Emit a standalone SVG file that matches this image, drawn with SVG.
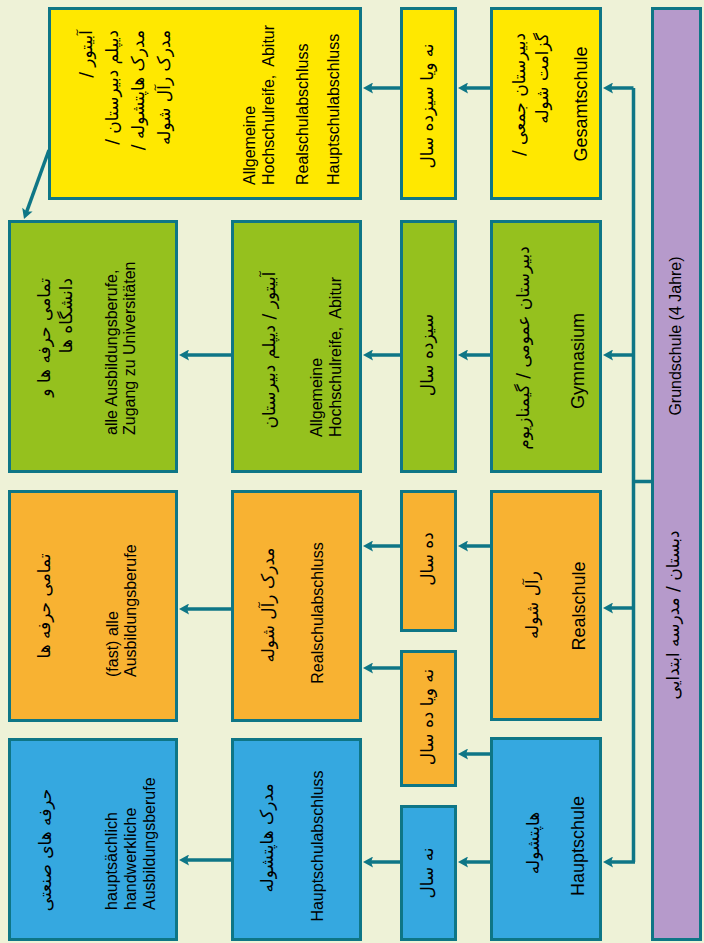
<svg xmlns="http://www.w3.org/2000/svg" width="704" height="943" viewBox="0 0 704 943">
<defs>
<style>
.bg{fill:#EEF2D7}
rect.b{stroke:#0E7686;stroke-width:3}
.y{fill:#FFE800}.g{fill:#95C11E}.o{fill:#F8B232}.bl{fill:#35A8E0}.p{fill:#B69ACB}
.c line,.c path{stroke:#0E7686;stroke-width:3.5;fill:none}
text{fill:#000}
.de{font-family:"Liberation Sans",Arial,sans-serif;font-size:16px}
.sn{font-family:"Liberation Sans",Arial,sans-serif;font-size:18px}
.fa{font-family:"DejaVu Sans",sans-serif;font-size:17px}
.m{text-anchor:middle}.s{text-anchor:start}.e{text-anchor:end}
</style>
<marker id="ah" markerUnits="userSpaceOnUse" markerWidth="11" markerHeight="11" viewBox="0 0 10 11" refX="5" refY="5.5" orient="auto">
<path d="M0,0 L10,5.5 L0,11 L2,5.5 z" fill="#0E7686"/>
</marker>
</defs>
<rect class="bg" x="0" y="0" width="704" height="943"/>

<g id="grundschule">
<rect class="b p" x="652.5" y="8.5" width="48" height="931"/>
<text class="de m" transform="translate(681,336) rotate(-90)">Grundschule (4 Jahre)</text>
<text class="fa m" transform="translate(679,615) rotate(-90)">دبستان / مدرسه ابتدایی</text>
</g>

<g id="gesamtschule">
<rect class="b y" x="491.5" y="8.5" width="109" height="190"/>
<text class="fa e" transform="translate(525,33) rotate(-90)">دبیرستان جمعی /&#x200F;</text>
<text class="fa e" transform="translate(548,33) rotate(-90)">گزامت شوله</text>
<text class="sn m" transform="translate(587,104) rotate(-90)">Gesamtschule</text>
</g>

<g id="gesamt-jahre">
<rect class="b y" x="401.5" y="8.5" width="54" height="190"/>
<text class="fa m" transform="translate(433,106) rotate(-90)">نه ویا سیزده سال</text>
</g>

<g id="gesamt-abschluss">
<rect class="b y" x="49.5" y="8.5" width="311" height="190"/>
<text class="fa e" transform="translate(92,30) rotate(-90)">آبیتور /&#x200F;</text>
<text class="fa e" transform="translate(118,30) rotate(-90)">دیپلم دبیرستان /&#x200F;</text>
<text class="fa e" transform="translate(144,30) rotate(-90)">مدرک هاپتشوله /&#x200F;</text>
<text class="fa e" transform="translate(170,30) rotate(-90)">مدرک رآل شوله</text>
<text class="de s" transform="translate(255,185) rotate(-90)">Allgemeine</text>
<text class="de s" transform="translate(274,185) rotate(-90)">Hochschulreife,&#160; Abitur</text>
<text class="de s" transform="translate(308,185) rotate(-90)">Realschulabschluss</text>
<text class="de s" transform="translate(339,185) rotate(-90)">Hauptschulabschluss</text>
</g>

<g id="gymnasium">
<rect class="b g" x="491.5" y="221.5" width="109" height="250"/>
<text class="fa m" transform="translate(529,348) rotate(-90)">دبیرستان عمومی / گیمنازیوم</text>
<text class="sn m" transform="translate(584,361) rotate(-90)">Gymnasium</text>
</g>

<g id="gym-jahre">
<rect class="b g" x="401.5" y="221.5" width="54" height="250"/>
<text class="fa m" transform="translate(433,355) rotate(-90)">سیزده سال</text>
</g>

<g id="gym-abschluss">
<rect class="b g" x="232.5" y="221.5" width="128" height="250"/>
<text class="fa m" transform="translate(275,350) rotate(-90)">آبیتور / دیپلم دبیرستان</text>
<text class="de s" transform="translate(322,437) rotate(-90)">Allgemeine</text>
<text class="de s" transform="translate(341,437) rotate(-90)">Hochschulreife,&#160; Abitur</text>
</g>

<g id="gym-beruf">
<rect class="b g" x="9.5" y="221.5" width="167" height="250"/>
<text class="fa e" transform="translate(50,278) rotate(-90)">تمامی حرفه ها و</text>
<text class="fa e" transform="translate(72,278) rotate(-90)">دانشگاه ها</text>
<text class="de s" transform="translate(117,435) rotate(-90)">alle Ausbildungsberufe,</text>
<text class="de s" transform="translate(135,435) rotate(-90)">Zugang zu Universitäten</text>
</g>

<g id="realschule">
<rect class="b o" x="491.5" y="491.5" width="109" height="228"/>
<text class="fa m" transform="translate(538,605) rotate(-90)">رآل شوله</text>
<text class="sn m" transform="translate(585,606) rotate(-90)">Realschule</text>
</g>

<g id="real-jahre">
<rect class="b o" x="401.5" y="491.5" width="54" height="139"/>
<text class="fa m" transform="translate(433,559) rotate(-90)">ده سال</text>
</g>

<g id="haupt-real-jahre">
<rect class="b o" x="401.5" y="651.5" width="54" height="134"/>
<text class="fa m" transform="translate(433,717) rotate(-90)">نه ویا ده سال</text>
</g>

<g id="real-abschluss">
<rect class="b o" x="232.5" y="491.5" width="128" height="229"/>
<text class="fa m" transform="translate(274,605) rotate(-90)">مدرک رآل شوله</text>
<text class="de m" transform="translate(323,613) rotate(-90)">Realschulabschluss</text>
</g>

<g id="real-beruf">
<rect class="b o" x="9.5" y="491.5" width="167" height="229"/>
<text class="fa m" transform="translate(50,606) rotate(-90)">تمامی حرفه ها</text>
<text class="de s" transform="translate(118,677) rotate(-90)">(fast) alle</text>
<text class="de s" transform="translate(136,677) rotate(-90)">Ausbildungsberufe</text>
</g>

<g id="hauptschule">
<rect class="b bl" x="491.5" y="738.5" width="109" height="201"/>
<text class="fa m" transform="translate(539,843) rotate(-90)">هاپتشوله</text>
<text class="sn m" transform="translate(584,846) rotate(-90)">Hauptschule</text>
</g>

<g id="haupt-jahre">
<rect class="b bl" x="401.5" y="806.5" width="54" height="133"/>
<text class="fa m" transform="translate(433,873) rotate(-90)">نه سال</text>
</g>

<g id="haupt-abschluss">
<rect class="b bl" x="232.5" y="739.5" width="128" height="200"/>
<text class="fa m" transform="translate(273,838) rotate(-90)">مدرک هاپتشوله</text>
<text class="de m" transform="translate(323,846) rotate(-90)">Hauptschulabschluss</text>
</g>

<g id="haupt-beruf">
<rect class="b bl" x="9.5" y="739.5" width="167" height="200"/>
<text class="fa m" transform="translate(51,850) rotate(-90)">حرفه های صنعتی</text>
<text class="de s" transform="translate(117,910) rotate(-90)">hauptsächlich</text>
<text class="de s" transform="translate(136,910) rotate(-90)">handwerkliche</text>
<text class="de s" transform="translate(155,910) rotate(-90)">Ausbildungsberufe</text>
</g>

<g id="connectors" class="c">
<path d="M633.5,88 V862 M633.5,481.5 H652"/>
<line x1="633.5" y1="88" x2="608" y2="88" marker-end="url(#ah)"/>
<line x1="633.5" y1="355" x2="608" y2="355" marker-end="url(#ah)"/>
<line x1="633.5" y1="608" x2="608" y2="608" marker-end="url(#ah)"/>
<line x1="635" y1="862" x2="608" y2="862" marker-end="url(#ah)"/>
<line x1="490" y1="88" x2="463" y2="88" marker-end="url(#ah)"/>
<line x1="400" y1="88" x2="368" y2="88" marker-end="url(#ah)"/>
<line x1="490" y1="355" x2="463" y2="355" marker-end="url(#ah)"/>
<line x1="400" y1="355" x2="368" y2="355" marker-end="url(#ah)"/>
<line x1="231" y1="355" x2="184" y2="355" marker-end="url(#ah)"/>
<line x1="490" y1="546" x2="463" y2="546" marker-end="url(#ah)"/>
<line x1="400" y1="546" x2="368" y2="546" marker-end="url(#ah)"/>
<line x1="400" y1="668" x2="368" y2="668" marker-end="url(#ah)"/>
<line x1="490" y1="754" x2="463" y2="754" marker-end="url(#ah)"/>
<line x1="231" y1="609" x2="184" y2="609" marker-end="url(#ah)"/>
<line x1="490" y1="862" x2="463" y2="862" marker-end="url(#ah)"/>
<line x1="400" y1="862" x2="368" y2="862" marker-end="url(#ah)"/>
<line x1="231" y1="860" x2="184" y2="860" marker-end="url(#ah)"/>
<line x1="49" y1="150" x2="25.7" y2="214.3" marker-end="url(#ah)"/>
</g>
</svg>
